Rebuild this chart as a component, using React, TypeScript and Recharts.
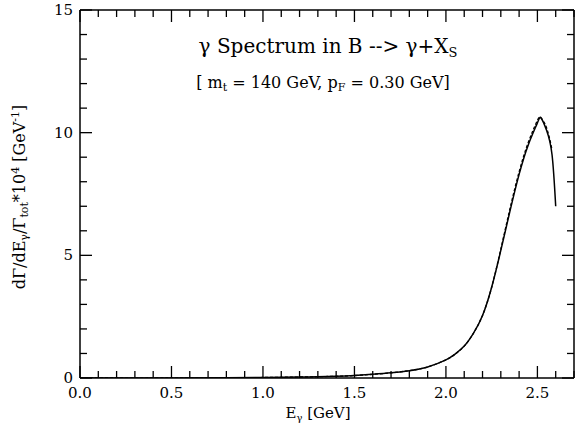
import React from 'react';
import { LineChart, Line, XAxis, YAxis } from 'recharts';

const energies = [0, 0.5, 0.8, 1.0, 1.2, 1.4, 1.5, 1.6, 1.7, 1.8, 1.9, 2.0, 2.05, 2.1, 2.15, 2.2, 2.25, 2.3, 2.35, 2.4, 2.45, 2.5, 2.52, 2.55, 2.58, 2.6];
const solidRate = [0, 0, 0.01, 0.02, 0.04, 0.07, 0.1, 0.15, 0.21, 0.3, 0.45, 0.74, 0.97, 1.3, 1.82, 2.55, 3.7, 5.2, 6.8, 8.3, 9.5, 10.4, 10.6, 10.1, 9.1, 7.0];
const dashedRate = [0, 0, 0.01, 0.02, 0.04, 0.07, 0.1, 0.15, 0.21, 0.3, 0.45, 0.74, 0.97, 1.3, 1.82, 2.55, 3.7, 5.25, 6.9, 8.4, 9.6, 10.5, 10.6, 10.2, 9.3, null];

const xTicks = Array.from({ length: 28 }, (_, i) => +(i * 0.1).toFixed(1));
const xLabels = [0, 0.5, 1.0, 1.5, 2.0, 2.5];
const yTicks = Array.from({ length: 16 }, (_, i) => i);
const yLabels = [0, 5, 10, 15];

const data = energies.map((e, i) => ({ e, solid: solidRate[i], dashed: dashedRate[i] }));

const FONT = '"DejaVu Serif", "Liberation Serif", serif';

const isMajor = (v: number, list: number[]) => list.some((m) => Math.abs(m - v) < 1e-6);

const BottomTick = (props: any) => {
  const { x, y, payload } = props;
  const major = isMajor(payload.value, xLabels);
  return (
    <g>
      <line x1={x} y1={y} x2={x} y2={y - (major ? 12 : 7)} stroke="#000" strokeWidth={1.3} />
      {major && (
        <text x={x} y={y + 20} textAnchor="middle" fontSize={15} fontFamily={FONT} fill="#000">
          {payload.value.toFixed(1)}
        </text>
      )}
    </g>
  );
};

const TopTick = (props: any) => {
  const { x, y, payload } = props;
  const major = isMajor(payload.value, xLabels);
  return <line x1={x} y1={y} x2={x} y2={y + (major ? 12 : 7)} stroke="#000" strokeWidth={1.3} />;
};

const LeftTick = (props: any) => {
  const { x, y, payload } = props;
  const major = isMajor(payload.value, yLabels);
  return (
    <g>
      <line x1={x} y1={y} x2={x + (major ? 12 : 7)} y2={y} stroke="#000" strokeWidth={1.3} />
      {major && (
        <text x={x - 7} y={y + 5} textAnchor="end" fontSize={15} fontFamily={FONT} fill="#000">
          {payload.value}
        </text>
      )}
    </g>
  );
};

const RightTick = (props: any) => {
  const { x, y, payload } = props;
  const major = isMajor(payload.value, yLabels);
  return <line x1={x} y1={y} x2={x - (major ? 12 : 7)} y2={y} stroke="#000" strokeWidth={1.3} />;
};

const axisStyle = { stroke: '#000', strokeWidth: 1.5 };

export default function App() {
  return (
    <div style={{ position: 'absolute', left: 0, top: 0, width: 576, height: 425, background: '#fff' }}>
      <LineChart width={576} height={425} data={data} margin={{ top: 9, right: 1, bottom: 46, left: 79 }}>
        <XAxis dataKey="e" type="number" domain={[0, 2.7]} ticks={xTicks} interval={0}
          xAxisId="bottom" height={1} tickSize={0} tickMargin={0} tick={<BottomTick />}
          axisLine={axisStyle} tickLine={false} allowDataOverflow />
        <XAxis dataKey="e" type="number" domain={[0, 2.7]} ticks={xTicks} interval={0}
          xAxisId="top" orientation="top" height={1} tickSize={0} tickMargin={0} tick={<TopTick />}
          axisLine={axisStyle} tickLine={false} allowDataOverflow />
        <YAxis type="number" domain={[0, 15]} ticks={yTicks} interval={0}
          yAxisId="left" width={1} tickSize={0} tickMargin={0} tick={<LeftTick />}
          axisLine={axisStyle} tickLine={false} allowDataOverflow />
        <YAxis type="number" domain={[0, 15]} ticks={yTicks} interval={0}
          yAxisId="right" orientation="right" width={1} tickSize={0} tickMargin={0} tick={<RightTick />}
          axisLine={axisStyle} tickLine={false} allowDataOverflow />
        <Line xAxisId="bottom" yAxisId="left" type="natural" dataKey="dashed" stroke="#000" strokeWidth={1.3}
          strokeDasharray="3 2" dot={false} isAnimationActive={false} connectNulls={false} />
        <Line xAxisId="bottom" yAxisId="left" type="natural" dataKey="solid" stroke="#000" strokeWidth={1.5}
          dot={false} isAnimationActive={false} />
      </LineChart>
      <svg width={576} height={425} style={{ position: 'absolute', left: 0, top: 0, pointerEvents: 'none' }}>
        <g fontFamily={FONT} fill="#000">
          <text x={328} y={53} textAnchor="middle" fontSize={20}>
            γ Spectrum in B --&gt; γ+X<tspan fontSize={13} dy={4}>S</tspan>
          </text>
          <text x={323} y={88} textAnchor="middle" fontSize={16}>
            [ m<tspan fontSize={11} dy={3}>t</tspan><tspan dy={-3}> = 140 GeV, p</tspan>
            <tspan fontSize={11} dy={3}>F</tspan><tspan dy={-3}> = 0.30 GeV]</tspan>
          </text>
          <text x={318} y={418} textAnchor="middle" fontSize={15}>
            E<tspan fontSize={10} dy={3}>γ</tspan><tspan dy={-3}> [GeV]</tspan>
          </text>
          <text transform="translate(25,197) rotate(-90)" textAnchor="middle" fontSize={16}>
            dΓ/dE<tspan fontSize={11} dy={3}>γ</tspan><tspan dy={-3}>/Γ</tspan>
            <tspan fontSize={11} dy={3}>tot</tspan><tspan dy={-3}>*10</tspan>
            <tspan fontSize={11} dy={-6}>4</tspan><tspan dy={6}> [GeV</tspan>
            <tspan fontSize={11} dy={-6}>-1</tspan><tspan dy={6}>]</tspan>
          </text>
        </g>
      </svg>
    </div>
  );
}
